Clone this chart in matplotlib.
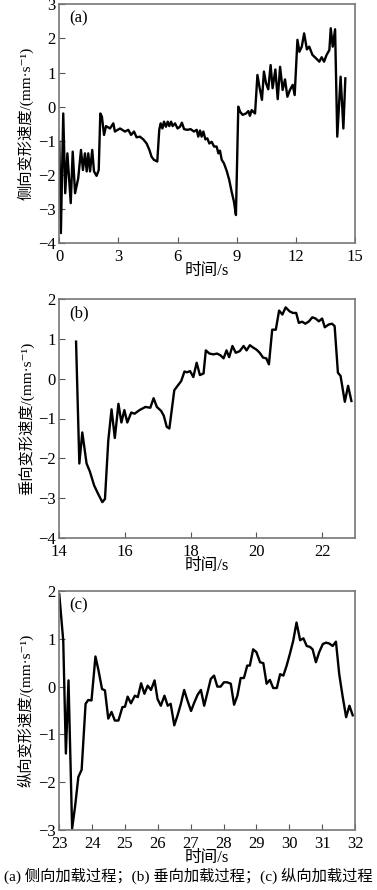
import numpy as np
import matplotlib
matplotlib.use('Agg')
import matplotlib.pyplot as plt

plt.rcParams['font.family'] = ['Liberation Serif', 'Noto Sans CJK SC', 'DejaVu Serif']
plt.rcParams['axes.unicode_minus'] = True

# (a) lateral loading
t_a = [0.0, 0.08, 0.2, 0.3, 0.41, 0.58, 0.68, 0.8, 0.96, 1.1, 1.2, 1.3, 1.39, 1.47, 1.56,
       1.67, 1.76, 1.89, 2.0, 2.08, 2.16, 2.27, 2.37, 2.57, 2.74, 2.82, 3.08, 3.33, 3.5,
       3.64, 3.79, 3.92, 4.09, 4.26, 4.43, 4.57, 4.68, 4.8, 4.97, 5.07, 5.14, 5.23, 5.31,
       5.41, 5.5, 5.58, 5.67, 5.75, 5.87, 6.0, 6.12, 6.22, 6.33, 6.49, 6.66, 6.83, 6.97,
       7.05, 7.14, 7.22, 7.31, 7.41, 7.51, 7.61, 7.73, 7.85, 7.98, 8.07, 8.15, 8.24, 8.35,
       8.49, 8.62, 8.74, 8.86, 8.96, 9.08, 9.17, 9.3, 9.47, 9.59, 9.67, 9.76, 9.84, 9.93,
       10.05, 10.15, 10.28, 10.38, 10.49, 10.6, 10.72, 10.82, 10.96, 11.08, 11.2, 11.33,
       11.45, 11.57, 11.7, 11.84, 11.94, 12.08, 12.18, 12.3, 12.42, 12.56, 12.68, 12.84,
       13.02, 13.19, 13.31, 13.43, 13.56, 13.7, 13.77, 13.87, 13.99, 14.1, 14.27, 14.41, 14.51]
v_a = [-1.03, -3.71, -0.2, -2.54, -1.37, -2.83, -1.32, -2.54, -2.1, -1.27, -1.86, -1.37, -1.9,
       -1.37, -1.9, -1.27, -1.9, -2.03, -1.86, -0.2, -0.29, -0.83, -0.57, -0.64, -0.49, -0.73,
       -0.64, -0.73, -0.68, -0.83, -0.73, -0.9, -0.88, -0.96, -1.08, -1.27, -1.47, -1.56, -1.61,
       -0.68, -0.49, -0.64, -0.44, -0.59, -0.44, -0.57, -0.44, -0.57, -0.49, -0.64, -0.59, -0.47,
       -0.66, -0.68, -0.66, -0.73, -0.68, -0.88, -0.7, -0.88, -0.73, -0.96, -0.93, -1.08, -1.03,
       -1.17, -1.17, -1.37, -1.29, -1.56, -1.66, -1.88, -2.15, -2.49, -2.79, -3.18, 0.0, -0.15,
       -0.24, -0.2, -0.13, -0.27, -0.1, -0.15, -0.2, 0.93, 0.59, 0.2, 1.03, 0.68, 0.51, 1.22,
       0.54, 1.09, 0.22, 1.17, 0.49, 0.8, 0.29, 0.49, 0.64, 0.34, 1.96, 1.61, 1.76, 2.15, 1.68,
       1.76, 1.52, 1.42, 1.32, 1.45, 1.32, 1.52, 1.66, 2.3, 1.76, 2.27, -0.88, 0.88, -0.64, 0.83]

# (b) vertical loading
t_b = [14.51, 14.61, 14.7, 14.83, 14.93, 15.06, 15.18, 15.31, 15.39, 15.49, 15.59, 15.69, 15.8,
       15.89, 15.98, 16.07, 16.19, 16.29, 16.44, 16.62, 16.77, 16.87, 16.97, 17.1, 17.18, 17.27,
       17.35, 17.5, 17.6, 17.71, 17.81, 17.89, 17.98, 18.08, 18.18, 18.28, 18.39, 18.46, 18.57,
       18.69, 18.8, 18.9, 19.0, 19.09, 19.17, 19.27, 19.37, 19.49, 19.61, 19.7, 19.8, 19.9, 20.0,
       20.1, 20.2, 20.3, 20.38, 20.48, 20.59, 20.69, 20.79, 20.89, 21.01, 21.11, 21.21, 21.29,
       21.39, 21.49, 21.6, 21.7, 21.8, 21.9, 22.0, 22.08, 22.2, 22.3, 22.38, 22.48, 22.56, 22.69,
       22.79, 22.89]
v_b = [0.93, -2.13, -1.35, -2.13, -2.33, -2.68, -2.89, -3.1, -3.02, -1.56, -0.77, -1.49, -0.63,
       -1.1, -0.79, -1.1, -0.85, -0.88, -0.79, -0.71, -0.73, -0.49, -0.71, -0.81, -0.93, -1.21,
       -1.25, -0.29, -0.18, -0.06, 0.18, 0.16, 0.19, 0.04, 0.4, 0.09, 0.13, 0.71, 0.63, 0.61,
       0.63, 0.59, 0.51, 0.71, 0.54, 0.82, 0.65, 0.69, 0.82, 0.71, 0.84, 0.78, 0.73, 0.65, 0.53,
       0.51, 0.36, 1.23, 1.23, 1.71, 1.61, 1.79, 1.69, 1.65, 1.65, 1.4, 1.43, 1.38, 1.44, 1.54,
       1.51, 1.44, 1.51, 1.29, 1.36, 1.38, 1.32, 0.15, 0.07, -0.58, -0.18, -0.56]

# (c) longitudinal loading
t_c = [23.0, 23.12, 23.2, 23.28, 23.39, 23.48, 23.58, 23.68, 23.8, 23.88, 23.98, 24.1, 24.19,
       24.3, 24.39, 24.49, 24.59, 24.69, 24.8, 24.92, 25.0, 25.08, 25.18, 25.3, 25.39, 25.49,
       25.59, 25.69, 25.79, 25.9, 25.99, 26.09, 26.2, 26.3, 26.39, 26.5, 26.6, 26.7, 26.8, 26.9,
       27.01, 27.11, 27.21, 27.31, 27.41, 27.5, 27.61, 27.71, 27.81, 27.91, 28.01, 28.11, 28.22,
       28.32, 28.42, 28.52, 28.62, 28.72, 28.8, 28.9, 29.0, 29.11, 29.21, 29.31, 29.41, 29.51,
       29.62, 29.72, 29.82, 29.92, 30.02, 30.12, 30.22, 30.33, 30.43, 30.53, 30.63, 30.71, 30.81,
       30.91, 31.02, 31.12, 31.22, 31.32, 31.42, 31.52, 31.62, 31.73, 31.83, 31.93]
v_c = [1.93, 0.96, -1.4, 0.13, -2.97, -2.51, -1.89, -1.74, -0.36, -0.28, -0.29, 0.63, 0.35,
       -0.05, -0.08, -0.67, -0.53, -0.71, -0.71, -0.43, -0.42, -0.21, -0.35, -0.19, -0.22, 0.07,
       -0.15, 0.02, -0.07, 0.13, -0.26, -0.4, -0.19, -0.4, -0.36, -0.81, -0.6, -0.36, -0.07,
       -0.29, -0.51, -0.33, -0.17, -0.07, -0.4, -0.15, 0.16, 0.23, 0.0, 0.0, 0.09, 0.09, 0.06,
       -0.38, -0.19, 0.18, 0.18, 0.44, 0.44, 0.78, 0.72, 0.51, 0.49, 0.06, 0.14, -0.03, -0.03,
       0.26, 0.23, 0.44, 0.69, 0.96, 1.34, 0.97, 1.01, 0.85, 0.83, 0.78, 0.51, 0.72, 0.89, 0.92,
       0.9, 0.85, 0.94, 0.26, -0.19, -0.64, -0.4, -0.6]

panels = [
    (t_a, v_a, '(a)', '侧向变形速度/(mm·s⁻¹)', (0, 15), [0, 3, 6, 9, 12, 15], (-4, 3), [-4, -3, -2, -1, 0, 1, 2, 3]),
    (t_b, v_b, '(b)', '垂向变形速度/(mm·s⁻¹)', (14, 23), [14, 16, 18, 20, 22], (-4, 2), [-4, -3, -2, -1, 0, 1, 2]),
    (t_c, v_c, '(c)', '纵向变形速度/(mm·s⁻¹)', (23, 32), list(range(23, 33)), (-3, 2), [-3, -2, -1, 0, 1, 2]),
]

fig = plt.figure(figsize=(3.77, 8.90), dpi=100)
W, H = 377.0, 890.0
boxes = [(4.4, 243), (299, 538), (591, 830)]

for (t, v, tag, ylab, xl, xt, yl, yt), (top, bot) in zip(panels, boxes):
    ax = fig.add_axes([59.3 / W, 1 - bot / H, (355 - 59.3) / W, (bot - top) / H])
    ax.plot(t, v, color='black', lw=1.7)
    ax.set_xlim(*xl)
    ax.set_ylim(*yl)
    ax.set_xticks(xt)
    ax.set_yticks(yt)
    ax.set_yticklabels([str(y).replace('-', '−') for y in yt])
    ax.tick_params(direction='in', length=4, width=0.8, color='#555555', labelsize=12)
    ax.tick_params(axis='x', pad=4)
    ax.tick_params(axis='y', pad=2.5)
    for s in ax.spines.values():
        s.set_color('#777777')
        s.set_linewidth(1.2)
    ax.text(0.035, 0.975, tag, transform=ax.transAxes, ha='left', va='top', fontsize=12)
    ax.set_ylabel(ylab, fontsize=11, labelpad=3)
    ax.set_xlabel('时间/s', fontsize=12, labelpad=-1)

fig.text(0.5, 1 - 876 / H, '(a) 侧向加载过程；(b) 垂向加载过程；(c) 纵向加载过程',
         ha='center', va='center', fontsize=11)

fig.savefig('out.png', dpi=100)
